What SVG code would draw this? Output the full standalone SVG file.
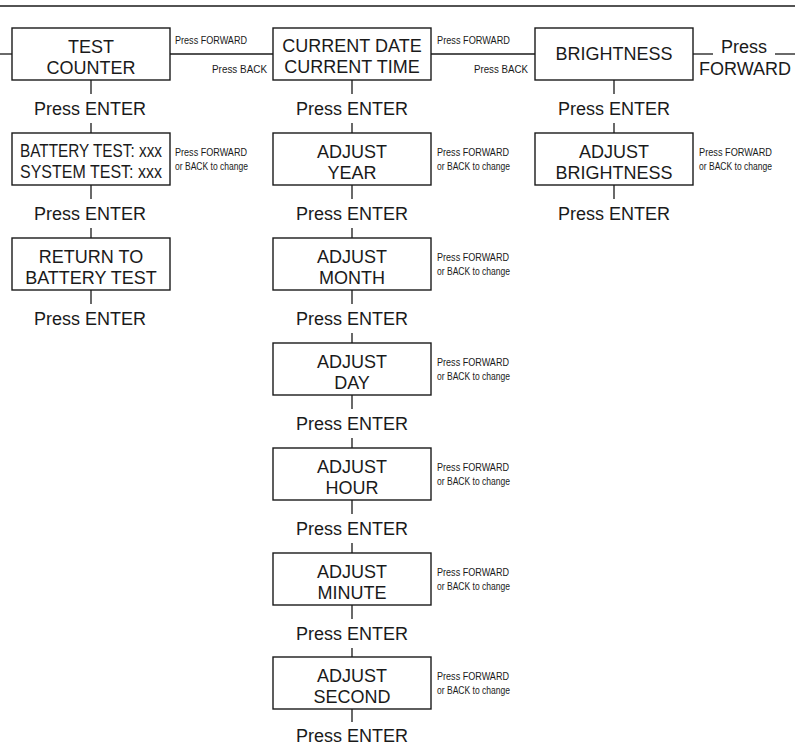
<svg xmlns="http://www.w3.org/2000/svg" width="795" height="746" viewBox="0 0 795 746">
<style>
  .box{fill:#fff;stroke:#1a1a1a;stroke-width:1.4}
  .ln{stroke:#1a1a1a;stroke-width:1.3;fill:none}
  .t{font-family:"Liberation Sans",Arial,sans-serif;font-size:18px;fill:#1a1a1a;text-anchor:middle}
  .s{font-family:"Liberation Sans",Arial,sans-serif;font-size:11.5px;fill:#1a1a1a}
</style>
<rect width="795" height="746" fill="#fff"/>
<line x1="0" y1="6" x2="795" y2="6" stroke="#1a1a1a" stroke-width="1.6"/>

<g id="connectors">
  <line class="ln" x1="0" y1="54" x2="12" y2="54"/>
  <line class="ln" x1="170" y1="54" x2="273" y2="54"/>
  <line class="ln" x1="431" y1="54" x2="535" y2="54"/>
  <line class="ln" x1="693" y1="54" x2="713" y2="54"/>
  <line class="ln" x1="775" y1="54" x2="795" y2="54"/>
  <text class="s" x="175" y="44" textLength="72" lengthAdjust="spacingAndGlyphs">Press FORWARD</text>
  <text class="s" x="212" y="73" textLength="55" lengthAdjust="spacingAndGlyphs">Press BACK</text>
  <text class="s" x="437" y="44" textLength="73" lengthAdjust="spacingAndGlyphs">Press FORWARD</text>
  <text class="s" x="474" y="73" textLength="54" lengthAdjust="spacingAndGlyphs">Press BACK</text>
  <text class="t" x="744" y="53">Press</text>
  <text class="t" x="745" y="75">FORWARD</text>

  <!-- left column -->
  <line class="ln" x1="91" y1="80" x2="91" y2="94"/>
  <text class="t" x="90" y="115">Press ENTER</text>
  <line class="ln" x1="91" y1="123" x2="91" y2="133"/>
  <line class="ln" x1="91" y1="185" x2="91" y2="199"/>
  <text class="t" x="90" y="220">Press ENTER</text>
  <line class="ln" x1="91" y1="228" x2="91" y2="238"/>
  <line class="ln" x1="91" y1="290" x2="91" y2="304"/>
  <text class="t" x="90" y="325">Press ENTER</text>

  <!-- center column -->
  <line class="ln" x1="352" y1="80" x2="352" y2="94"/>
  <text class="t" x="352" y="115">Press ENTER</text>
  <line class="ln" x1="352" y1="123" x2="352" y2="133"/>
  <line class="ln" x1="352" y1="185" x2="352" y2="199"/>
  <text class="t" x="352" y="220">Press ENTER</text>
  <line class="ln" x1="352" y1="228" x2="352" y2="238"/>
  <line class="ln" x1="352" y1="290" x2="352" y2="304"/>
  <text class="t" x="352" y="325">Press ENTER</text>
  <line class="ln" x1="352" y1="333" x2="352" y2="343"/>
  <line class="ln" x1="352" y1="395" x2="352" y2="409"/>
  <text class="t" x="352" y="430">Press ENTER</text>
  <line class="ln" x1="352" y1="438" x2="352" y2="448"/>
  <line class="ln" x1="352" y1="500" x2="352" y2="514"/>
  <text class="t" x="352" y="535">Press ENTER</text>
  <line class="ln" x1="352" y1="543" x2="352" y2="553"/>
  <line class="ln" x1="352" y1="605" x2="352" y2="619"/>
  <text class="t" x="352" y="640">Press ENTER</text>
  <line class="ln" x1="352" y1="648" x2="352" y2="657"/>
  <line class="ln" x1="352" y1="709" x2="352" y2="722"/>
  <text class="t" x="352" y="742">Press ENTER</text>

  <!-- right column -->
  <line class="ln" x1="614" y1="80" x2="614" y2="94"/>
  <text class="t" x="614" y="115">Press ENTER</text>
  <line class="ln" x1="614" y1="123" x2="614" y2="133"/>
  <line class="ln" x1="614" y1="185" x2="614" y2="199"/>
  <text class="t" x="614" y="220">Press ENTER</text>
</g>

<g id="test-counter">
  <rect class="box" x="12" y="28" width="158" height="52"/>
  <text class="t" x="91" y="53">TEST</text>
  <text class="t" x="91" y="74">COUNTER</text>
</g>
<g id="battery-test">
  <rect class="box" x="12" y="133" width="158" height="52"/>
  <text class="t" x="20" y="157" style="text-anchor:start" font-size="16" textLength="142" lengthAdjust="spacingAndGlyphs">BATTERY TEST: xxx</text>
  <text class="t" x="20" y="178" style="text-anchor:start" font-size="16" textLength="142" lengthAdjust="spacingAndGlyphs">SYSTEM TEST: xxx</text>
  <text class="s" x="175" y="156" textLength="72" lengthAdjust="spacingAndGlyphs">Press FORWARD</text>
  <text class="s" x="175" y="170" textLength="73" lengthAdjust="spacingAndGlyphs">or BACK to change</text>
</g>
<g id="return-battery">
  <rect class="box" x="12" y="238" width="158" height="52"/>
  <text class="t" x="91" y="263">RETURN TO</text>
  <text class="t" x="91" y="284">BATTERY TEST</text>
</g>

<g id="current-date">
  <rect class="box" x="273" y="28" width="158" height="52"/>
  <text class="t" x="352" y="52">CURRENT DATE</text>
  <text class="t" x="352" y="73">CURRENT TIME</text>
</g>
<g id="adjust-year">
  <rect class="box" x="273" y="133" width="158" height="52"/>
  <text class="t" x="352" y="158">ADJUST</text>
  <text class="t" x="352" y="179">YEAR</text>
  <text class="s" x="437" y="156" textLength="72" lengthAdjust="spacingAndGlyphs">Press FORWARD</text>
  <text class="s" x="437" y="170" textLength="73" lengthAdjust="spacingAndGlyphs">or BACK to change</text>
</g>
<g id="adjust-month">
  <rect class="box" x="273" y="238" width="158" height="52"/>
  <text class="t" x="352" y="263">ADJUST</text>
  <text class="t" x="352" y="284">MONTH</text>
  <text class="s" x="437" y="261" textLength="72" lengthAdjust="spacingAndGlyphs">Press FORWARD</text>
  <text class="s" x="437" y="275" textLength="73" lengthAdjust="spacingAndGlyphs">or BACK to change</text>
</g>
<g id="adjust-day">
  <rect class="box" x="273" y="343" width="158" height="52"/>
  <text class="t" x="352" y="368">ADJUST</text>
  <text class="t" x="352" y="389">DAY</text>
  <text class="s" x="437" y="366" textLength="72" lengthAdjust="spacingAndGlyphs">Press FORWARD</text>
  <text class="s" x="437" y="380" textLength="73" lengthAdjust="spacingAndGlyphs">or BACK to change</text>
</g>
<g id="adjust-hour">
  <rect class="box" x="273" y="448" width="158" height="52"/>
  <text class="t" x="352" y="473">ADJUST</text>
  <text class="t" x="352" y="494">HOUR</text>
  <text class="s" x="437" y="471" textLength="72" lengthAdjust="spacingAndGlyphs">Press FORWARD</text>
  <text class="s" x="437" y="485" textLength="73" lengthAdjust="spacingAndGlyphs">or BACK to change</text>
</g>
<g id="adjust-minute">
  <rect class="box" x="273" y="553" width="158" height="52"/>
  <text class="t" x="352" y="578">ADJUST</text>
  <text class="t" x="352" y="599">MINUTE</text>
  <text class="s" x="437" y="576" textLength="72" lengthAdjust="spacingAndGlyphs">Press FORWARD</text>
  <text class="s" x="437" y="590" textLength="73" lengthAdjust="spacingAndGlyphs">or BACK to change</text>
</g>
<g id="adjust-second">
  <rect class="box" x="273" y="657" width="158" height="52"/>
  <text class="t" x="352" y="682">ADJUST</text>
  <text class="t" x="352" y="703">SECOND</text>
  <text class="s" x="437" y="680" textLength="72" lengthAdjust="spacingAndGlyphs">Press FORWARD</text>
  <text class="s" x="437" y="694" textLength="73" lengthAdjust="spacingAndGlyphs">or BACK to change</text>
</g>

<g id="brightness">
  <rect class="box" x="535" y="28" width="158" height="52"/>
  <text class="t" x="614" y="60">BRIGHTNESS</text>
</g>
<g id="adjust-brightness">
  <rect class="box" x="535" y="133" width="158" height="52"/>
  <text class="t" x="614" y="158">ADJUST</text>
  <text class="t" x="614" y="179">BRIGHTNESS</text>
  <text class="s" x="699" y="156" textLength="73" lengthAdjust="spacingAndGlyphs">Press FORWARD</text>
  <text class="s" x="699" y="170" textLength="73" lengthAdjust="spacingAndGlyphs">or BACK to change</text>
</g>
</svg>
